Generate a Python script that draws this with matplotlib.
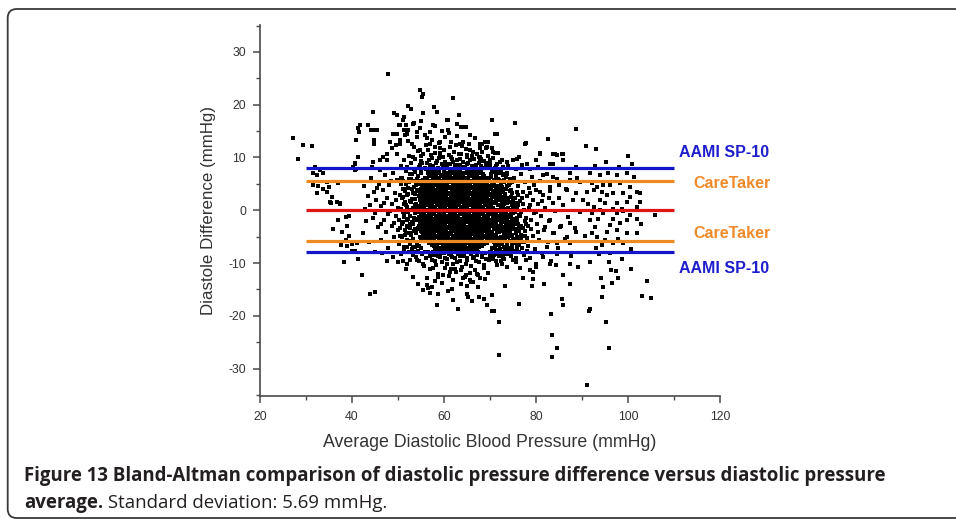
import matplotlib
matplotlib.use("Agg")
import matplotlib.pyplot as plt
from matplotlib.patches import FancyBboxPatch
from matplotlib.transforms import IdentityTransform

# ---------------- data ----------------
x_ticks = [20, 40, 60, 80, 100, 120]
y_ticks = [-30, -20, -10, 0, 10, 20, 30]
line_x = [30, 110]
zero_line = 0.0
caretaker_upper = 5.6
caretaker_lower = -5.8
aami_upper = 8.0
aami_lower = -8.0

upper_outliers = [
    (27.2, 13.7), (29.4, 12.3), (31.2, 12.2), (28.2, 9.7),
    (47.8, 25.9), (54.8, 22.7), (55.5, 22.1), (55.2, 21.5), (62.0, 21.2),
    (52.1, 19.8), (52.8, 19.1), (57.8, 19.6), (58.4, 18.6), (55.5, 18.5),
    (49.1, 18.5), (49.7, 18.0), (44.5, 18.6), (60.8, 17.1), (62.8, 16.4),
    (63.7, 15.8), (64.8, 15.8), (41.7, 16.2), (41.4, 15.6), (41.6, 14.8),
    (43.5, 16.2), (44.1, 15.2), (44.6, 15.2), (45.5, 15.2), (44.8, 13.3),
    (44.8, 12.6), (40.9, 13.3), (41.2, 10.1), (51.0, 17.1), (51.7, 16.1),
    (50.3, 16.1), (53.5, 16.6), (51.2, 15.2), (49.7, 14.5), (51.9, 14.5),
    (54.1, 14.8), (50.4, 13.3), (49.6, 12.3), (48.6, 11.7), (47.7, 10.7),
    (46.8, 10.1), (46.0, 9.5), (44.6, 9.2), (40.8, 7.9), (40.7, 8.8),
    (70.4, 17.1), (71.0, 14.5), (75.4, 16.5), (88.8, 15.4), (82.7, 13.5),
    (77.8, 12.8), (90.9, 12.1), (93.0, 11.6), (80.9, 10.9), (84.1, 10.6),
    (85.9, 10.6), (99.9, 10.2), (76.2, 10.0), (68.2, 12.6), (68.9, 12.9),
    (69.6, 12.9), (67.8, 11.7), (69.1, 11.7), (70.4, 11.8), (71.1, 10.9),
    (71.8, 10.9), (66.4, 11.0), (67.5, 10.1), (75.1, 9.5), (73.6, 9.2),
    (72.5, 9.5), (71.5, 8.8), (72.9, 8.2), (80.1, 9.5), (83.0, 8.8),
    (84.5, 10.4), (85.9, 9.5), (88.8, 8.2), (51.2, 17.7), (50.4, 16.1),
    (53.3, 16.4), (52.2, 15.2), (54.8, 15.5), (49.0, 14.5), (51.5, 14.2),
    (54.1, 13.9), (56.2, 13.6), (57.7, 16.1), (60.6, 17.1), (64.6, 15.8),
    (65.7, 14.2), (60.9, 15.2), (59.1, 12.9), (57.0, 12.6), (53.0, 12.6),
    (50.4, 12.6), (48.3, 12.9), (54.8, 11.4), (61.3, 12.0), (63.5, 12.6),
    (67.8, 12.6), (69.3, 12.0), (70.7, 11.0), (71.5, 14.5), (77.6, 12.6),
    (83.8, 10.7), (85.6, 10.7), (80.9, 10.7), (75.8, 9.8), (67.8, 10.1),
    (64.9, 10.4), (59.1, 10.7), (53.3, 10.1), (49.7, 10.7), (47.5, 9.5),
    (62.8, 9.5), (70.0, 9.5), (78.0, 8.8), (83.8, 8.8),
]

upper_band = [
    (50.6, 8.4), (51.3, 9.6), (51.9, 8.1), (52.4, 10.3), (52.9, 8.9), (53.4, 7.9),
    (53.8, 9.8), (54.3, 11.2), (54.7, 8.5), (55.1, 9.3), (55.5, 10.6), (55.8, 8.0),
    (56.2, 9.0), (56.6, 11.5), (56.9, 8.6), (57.3, 9.9), (57.7, 8.2), (58.0, 10.8),
    (58.4, 9.4), (58.8, 8.0), (59.1, 11.8), (59.5, 8.8), (59.8, 10.1), (60.2, 9.2),
    (60.6, 8.1), (61.0, 10.5), (61.3, 8.7), (61.7, 9.7), (62.1, 11.1), (62.4, 8.3),
    (62.8, 9.5), (63.2, 10.7), (63.5, 8.6), (63.9, 12.2), (64.2, 9.1), (64.6, 8.0),
    (65.0, 10.0), (65.3, 8.9), (65.7, 11.4), (66.1, 8.4), (66.5, 9.8), (66.8, 8.1),
    (67.2, 10.6), (67.6, 9.0), (68.0, 8.3), (68.3, 11.0), (68.7, 9.4), (69.1, 8.2),
    (69.5, 10.2), (69.9, 8.7), (56.0, 12.4), (57.4, 13.3), (58.9, 12.7), (60.3, 13.8),
    (61.6, 12.9), (62.9, 14.1), (64.1, 13.0), (65.4, 12.5), (59.6, 15.0), (61.1, 14.6),
    (57.0, 14.9), (55.0, 16.9), (58.1, 16.0), (63.3, 18.0), (66.7, 13.6), (53.5, 12.0),
    (52.2, 13.1), (55.8, 14.2),
]

top_edge = [
    (54.5, 8.2), (55.3, 8.9), (56.0, 7.9), (56.8, 9.5), (57.5, 8.3), (58.3, 8.9),
    (59.0, 9.9), (59.8, 8.2), (60.5, 8.8), (61.2, 7.9), (61.9, 9.2), (62.7, 8.5),
    (63.4, 9.8), (64.1, 8.1), (64.9, 8.8), (65.6, 9.5), (66.3, 7.9), (67.0, 8.6),
    (67.8, 9.3), (68.5, 8.0), (69.2, 9.0), (70.0, 8.4), (70.7, 9.9), (71.4, 8.3),
    (72.2, 9.1), (55.0, 10.2), (57.1, 10.4), (59.2, 10.9), (61.5, 10.0), (63.8, 10.6),
    (66.0, 10.2), (68.1, 9.8), (60.0, 11.4), (62.5, 12.3), (64.8, 11.6), (58.1, 11.9),
    (65.9, 7.8), (63.0, 7.9), (57.2, 7.8),
]

left_cluster = [
    (31.6, 4.7), (32.7, 4.5), (33.8, 4.1), (34.9, 4.4), (34.5, 3.5), (35.6, 2.5),
    (35.2, 1.6), (37.0, 5.1), (37.4, 1.3), (32.0, 8.2), (33.0, 7.6), (32.3, 6.6),
    (33.8, 7.1), (35.4, 1.3), (37.4, 1.1), (38.8, -1.3), (37.0, -1.8), (39.4, -1.1),
    (35.8, -3.5), (37.8, -4.1), (39.0, -3.0), (39.4, -4.9), (38.8, -5.6), (37.5, -6.6),
    (39.0, -6.8), (39.9, -6.4), (41.0, -6.3), (40.1, -7.7), (40.7, -7.7), (38.3, -9.9),
    (41.4, -9.2), (42.1, -12.2), (43.9, -15.8), (45.0, -15.4), (31.5, 7.0), (34.5, 5.4),
    (32.3, 3.2), (36.7, 1.6), (40.3, 8.2), (40.7, 7.6), (40.7, 9.0),
]

halo_left = [
    (44.2, 6.1), (44.8, 3.4), (45.1, -0.6), (45.3, 1.9), (45.6, -3.2), (45.9, 5.0),
    (46.2, -5.7), (46.4, 0.8), (46.7, 3.9), (46.9, -1.8), (47.2, 6.6), (47.4, -4.1),
    (47.6, 2.3), (47.9, -7.2), (48.1, 4.8), (48.3, -0.2), (48.6, -2.9), (48.8, 1.2),
    (49.0, 7.1), (49.2, -5.1), (49.4, 3.3), (49.6, -1.1), (49.8, 5.7), (50.0, -3.7),
    (50.1, 0.4), (50.3, -6.4), (50.5, 2.8), (50.7, -8.3), (50.8, 6.2), (51.0, -2.2),
    (51.2, 4.1), (51.3, -0.9), (51.5, 1.6), (51.6, -4.6), (51.8, 7.4), (51.9, -7.0),
    (52.1, 3.0), (52.2, -1.6), (52.4, 5.3), (52.5, -3.3), (52.7, 0.1), (52.8, -5.8),
    (53.0, 2.2), (53.1, 6.8), (53.3, -2.6), (53.4, 4.4), (53.5, -8.0), (53.7, -0.5),
    (53.8, 1.0), (54.0, -4.0), (54.1, 5.9), (54.2, -6.6), (54.4, 3.6), (54.5, -1.3),
    (54.6, 0.7), (54.8, -3.0), (54.9, 7.7), (54.9, -5.2), (50.2, -1.8), (50.6, 4.9),
    (50.9, -5.0), (51.1, 2.6), (51.4, -7.6), (51.7, 0.9), (52.0, -2.9), (52.3, 6.0),
    (52.6, -4.3), (52.9, 1.5), (53.2, -6.9), (53.6, 3.1), (53.9, -1.9), (54.3, 4.9),
    (54.7, -2.3), (54.8, 2.9), (53.4, -3.9), (52.0, -0.3), (51.0, 5.5), (50.4, -4.8),
    (49.5, 1.9), (49.1, -2.5), (48.4, 5.6), (47.8, -0.7), (47.0, 1.4), (46.3, -2.6),
    (45.5, 4.3), (44.6, -1.4), (44.0, 0.9), (43.4, 2.7), (43.1, -2.1), (42.6, 4.5),
    (42.3, -4.4), (43.7, -6.0), (44.9, -7.9), (46.5, -8.1), (47.7, -9.6), (48.9, -8.9),
    (49.9, -9.9), (46.0, 7.6), (44.3, 8.1), (42.8, 0.3),
]

edge_left = [
    (55.0, 7.0), (54.3, 6.4), (53.6, 7.3), (52.8, 5.9), (54.7, 5.6), (53.9, 4.8),
    (52.2, 4.3), (55.2, 4.4), (54.1, 3.8), (53.2, 3.2), (51.6, 3.6), (54.6, 2.7),
    (53.7, 2.1), (52.5, 1.8), (55.1, 1.6), (51.3, 1.1), (54.0, 1.2), (53.3, 0.5),
    (52.0, 0.7), (54.8, 0.0), (51.0, -0.4), (53.8, -0.6), (52.6, -1.0), (55.0, -1.1),
    (54.2, -1.7), (51.9, -1.8), (53.1, -2.3), (55.2, -2.4), (50.8, -2.6), (54.5, -2.9),
    (52.4, -3.1), (53.6, -3.5), (51.5, -3.8), (55.0, -3.9), (54.0, -4.4), (52.9, -4.6),
    (50.9, -4.9), (54.7, -5.0), (53.3, -5.4), (51.9, -5.6), (55.3, -5.8), (54.1, -6.2),
    (52.6, -6.4), (53.8, -7.0), (55.0, -7.1), (54.4, -7.7), (52.3, -7.9), (51.2, -6.9),
    (50.6, 0.2), (50.9, 2.4), (51.8, 5.0), (52.6, 6.8), (51.4, -1.2), (50.5, -3.3),
    (51.1, 4.0), (53.0, 4.1), (53.5, -1.4), (52.1, -0.3), (54.9, 3.3), (53.7, 5.5),
    (54.4, -3.4), (52.0, 2.9), (54.6, -6.7), (55.3, -0.6), (55.3, 2.2), (50.7, 6.1),
    (51.7, -4.4), (53.1, -7.4), (52.7, -2.6), (54.2, 0.5),
]

edge_right = [
    (70.4, 7.2), (71.2, 6.5), (72.1, 7.0), (70.9, 5.8), (72.6, 5.5), (73.4, 6.3),
    (70.5, 4.9), (71.6, 4.6), (72.9, 4.1), (74.1, 4.7), (70.7, 3.6), (71.9, 3.4),
    (73.2, 3.0), (74.5, 2.6), (70.5, 2.5), (71.4, 2.2), (72.5, 1.8), (73.8, 1.3),
    (75.1, 1.7), (70.8, 1.6), (71.8, 1.0), (72.9, 0.5), (74.2, 0.1), (75.5, -0.3),
    (70.4, 0.1), (71.3, -0.4), (72.3, -0.6), (73.4, -1.0), (74.6, -1.3), (75.8, -1.8),
    (70.6, -1.2), (71.7, -1.6), (72.8, -2.0), (74.0, -2.3), (75.2, -2.7), (76.3, -3.1),
    (70.3, -2.4), (71.2, -2.8), (72.2, -3.3), (73.3, -3.6), (74.4, -3.9), (75.6, -4.3),
    (76.8, -4.6), (70.8, -3.6), (71.9, -4.2), (73.0, -4.6), (74.0, -5.0), (75.1, -5.4),
    (76.2, -5.8), (77.3, -6.0), (70.5, -4.9), (71.5, -5.3), (72.6, -5.8), (73.6, -6.1),
    (74.7, -6.5), (75.8, -6.9), (76.9, -7.2), (70.9, -6.0), (71.9, -6.6), (73.0, -6.9),
    (74.1, -7.4), (75.2, -7.7), (76.4, -8.0), (70.4, -7.1), (71.4, -7.5), (72.5, -7.9),
    (73.5, -8.3), (74.6, -8.6), (75.7, -9.0), (70.8, -8.4), (72.0, -8.7), (73.1, -9.2),
    (71.3, -9.6), (72.7, -10.1), (69.9, -8.6), (77.5, -4.9), (78.1, -7.7), (77.9, -2.6),
    (76.6, -1.0), (76.0, 0.9), (74.9, -0.6), (73.9, -2.9), (72.0, -1.3), (71.1, -2.0),
    (70.2, -5.6), (76.9, 2.4), (75.9, 3.5), (74.8, 5.4), (73.7, 6.8), (71.9, 7.9),
]

edge_right_inner = [
    (70.3, 6.3), (71.0, 5.5), (71.8, 6.0), (72.4, 4.8), (73.1, 5.7), (70.2, 4.3),
    (71.1, 3.5), (72.0, 4.0), (72.8, 3.4), (73.6, 4.5), (74.3, 3.6), (70.6, 2.8),
    (71.5, 2.7), (72.3, 2.3), (73.2, 1.9), (74.0, 2.3), (74.8, 1.0), (70.3, 1.9),
    (71.2, 1.5), (72.1, 0.9), (73.0, 1.2), (73.9, 0.4), (75.0, 0.6), (70.7, 0.5),
    (71.6, 0.1), (72.6, -0.1), (73.5, -0.5), (74.4, -0.9), (70.2, -0.6), (71.0, -1.3),
    (71.9, -1.0), (72.9, -1.4), (73.8, -1.7), (74.7, -2.0), (75.6, -2.3), (70.5, -1.9),
    (71.4, -2.3), (72.4, -2.6), (73.4, -3.0), (74.3, -3.2), (75.3, -3.5), (76.2, -3.9),
    (70.9, -3.2), (71.8, -3.5), (72.8, -4.0), (73.8, -4.3), (74.8, -4.6), (75.8, -5.0),
    (70.4, -4.2), (71.3, -4.6), (72.3, -5.0), (73.3, -5.4), (74.3, -5.8), (75.4, -6.2),
    (76.4, -6.5), (70.7, -5.5), (71.7, -6.0), (72.7, -6.3), (73.7, -6.8), (74.8, -7.2),
    (75.9, -7.6), (71.0, -7.0), (72.1, -7.3), (73.2, -7.7), (74.3, -8.0), (71.7, -8.2),
    (72.9, -8.6), (70.3, -8.0), (76.8, -5.4), (77.2, -3.4), (76.0, -2.6), (75.7, 1.4),
    (74.4, 6.0), (72.8, 6.9), (70.8, 7.6),
]

halo_right = [
    (70.2, 6.9), (70.4, 3.1), (70.5, -0.8), (70.6, -4.6), (70.8, 5.2), (70.9, 1.4),
    (71.0, -2.7), (71.1, -6.8), (71.3, 7.3), (71.4, 3.9), (71.5, -0.1), (71.6, -3.9),
    (71.8, -7.6), (71.9, 2.0), (72.0, 5.8), (72.1, -1.9), (72.3, -5.3), (72.4, 0.7),
    (72.5, 4.4), (72.6, -3.2), (72.8, -8.8), (72.9, 6.6), (73.0, 2.6), (73.1, -1.2),
    (73.3, -5.9), (73.4, 0.2), (73.5, 4.0), (73.7, -3.7), (73.8, 7.0), (73.9, -7.2),
    (74.1, 1.5), (74.2, -2.4), (74.4, 5.1), (74.5, -4.8), (74.6, -0.5), (74.8, 3.2),
    (74.9, -9.4), (75.0, -6.3), (75.2, 6.1), (75.3, -1.7), (75.5, 2.3), (75.6, -3.5),
    (75.8, 0.6), (75.9, -7.9), (76.1, 4.6), (76.2, -5.0), (76.4, -0.9), (76.5, 1.8),
    (76.7, -2.9), (76.8, 6.9), (77.0, -6.1), (77.1, 3.4), (77.3, -8.4), (77.4, 0.0),
    (77.6, -4.0), (77.7, 5.4), (77.9, -1.5), (78.0, 2.7), (78.2, -6.8), (78.3, -3.0),
    (78.5, 4.2), (78.6, 0.9), (78.8, -9.0), (78.9, -1.8), (79.1, 6.3), (79.3, -4.9),
    (79.4, 2.0), (79.6, -0.6), (79.8, -7.3), (80.0, 3.9), (80.2, -2.6), (80.4, 1.1),
    (80.6, -5.6), (80.8, 5.6), (81.0, -1.0), (81.3, -8.1), (81.5, 2.9), (81.7, -3.8),
    (82.0, 0.4), (82.3, 6.8), (82.5, -6.0), (82.8, -2.0), (83.0, 3.6), (83.3, -9.6),
    (83.6, 1.3), (83.9, -4.4), (84.2, -0.2), (84.5, 5.9), (84.8, -7.1), (85.1, 2.4),
    (85.4, -2.9), (85.8, 0.9), (86.2, -5.4), (86.6, 4.0), (87.0, -1.2), (87.5, -8.6),
    (88.0, 1.9), (88.5, -3.3), (89.0, 6.1), (89.5, -0.4), (70.3, 1.0), (70.7, -2.2),
    (70.9, 4.5), (71.2, -5.5), (71.4, -1.1), (71.7, 0.9), (71.9, -3.0), (72.2, 3.0),
    (72.5, -0.9), (72.7, -6.4), (73.0, 5.3), (73.2, -2.2), (73.5, -0.3), (73.7, 1.9),
    (74.0, -4.1), (74.3, -1.1), (74.6, 3.8), (74.9, -2.8), (75.2, 0.3), (75.5, -5.5),
    (75.8, -1.4), (76.1, 2.9), (76.4, -3.9), (76.8, -0.4), (77.2, 1.2), (77.6, -2.1),
    (78.0, -5.2), (78.4, 0.5), (79.0, -3.5), (79.5, 4.8), (80.1, -0.3), (80.5, -4.1),
    (81.2, 1.8), (82.0, -3.1), (82.8, 2.4), (70.1, -7.9), (70.6, -9.2), (71.5, -10.4),
    (72.3, -9.7), (73.6, -10.8), (74.4, -8.2), (75.7, -9.8), (76.6, -10.9), (77.8, -9.5),
    (78.6, -11.3), (79.9, -10.1), (71.0, 8.0), (72.3, 7.6), (74.0, 8.3), (75.6, 7.8),
    (77.0, 8.5), (78.7, 7.9), (80.5, 8.2), (80.1, 9.5), (87.4, 7.0), (83.8, 6.3),
    (81.6, 6.6), (87.4, 5.7), (89.6, 5.4), (84.9, 4.7), (83.0, 4.4), (86.7, 3.8),
    (80.9, 3.5), (78.7, 3.2), (88.8, 3.2), (91.0, 3.5), (90.3, 1.9), (83.0, -1.9),
    (85.2, -3.2), (87.4, -2.5), (83.8, -4.4), (86.7, -5.1), (88.8, -4.1), (84.5, -6.3),
    (82.3, -7.0), (87.4, -6.3), (84.5, -8.2), (81.6, -8.8), (87.4, -10.1), (83.0, -10.1),
    (80.1, -10.7), (85.9, -12.3), (79.4, -11.7),
]

bottom_edge = [
    (55.8, -8.0), (56.9, -8.6), (57.7, -7.9), (58.6, -8.7), (59.4, -8.1), (60.2, -9.0),
    (61.0, -8.2), (61.8, -8.9), (62.6, -7.9), (63.4, -8.7), (64.2, -8.1), (65.0, -9.1),
    (65.8, -8.3), (66.6, -8.8), (67.4, -7.9), (68.2, -8.6), (69.0, -8.1), (69.7, -9.4),
    (58.0, -9.6), (60.6, -10.2), (62.9, -9.8), (64.8, -10.1), (66.9, -9.7), (68.6, -10.9),
    (63.8, -11.3), (61.5, -11.1), (59.8, -12.2), (65.6, -11.9), (67.3, -12.2), (57.7, -10.9),
]

lower_band = [
    (53.9, -8.8), (54.6, -9.7), (55.2, -8.3), (55.7, -10.5), (56.1, -9.1), (56.6, -8.0),
    (57.0, -11.2), (57.4, -9.5), (57.9, -8.4), (58.3, -10.3), (58.7, -12.0), (59.1, -8.9),
    (59.5, -9.9), (59.9, -8.1), (60.3, -11.0), (60.7, -9.3), (61.1, -12.5), (61.5, -8.5),
    (61.9, -10.1), (62.3, -9.0), (62.7, -11.7), (63.1, -8.2), (63.5, -9.6), (63.9, -10.8),
    (64.3, -8.7), (64.7, -12.3), (65.1, -9.4), (65.5, -8.0), (65.9, -10.6), (66.3, -9.0),
    (66.7, -11.4), (67.1, -8.4), (67.5, -9.9), (67.9, -12.8), (68.3, -8.8), (68.7, -10.4),
    (69.1, -9.3), (69.5, -11.9), (69.9, -8.1), (56.4, -12.8), (58.0, -13.4), (59.6, -13.8),
    (62.0, -13.2), (63.6, -14.0), (65.8, -13.6), (67.4, -14.5), (68.9, -13.1), (60.9, -15.3),
    (57.3, -14.6), (64.9, -15.9), (66.0, -17.2), (63.1, -18.7), (67.6, -16.4), (52.6, -9.4),
    (51.8, -11.2), (53.2, -12.6), (54.4, -13.9), (55.4, -15.1),
]

lower_outliers = [
    (91.0, -33.2), (72.0, -27.5), (83.4, -27.9), (84.6, -26.1), (95.9, -26.1),
    (83.4, -23.6), (72.0, -21.2), (95.2, -21.2), (91.7, -18.8), (91.6, -19.1),
    (83.2, -19.6), (70.4, -19.1), (70.9, -19.1), (76.4, -17.8), (85.6, -16.9),
    (85.8, -18.0), (69.4, -18.0), (68.6, -16.9), (70.4, -16.1), (103.0, -16.3),
    (105.1, -16.7), (94.3, -16.4), (94.6, -14.6), (87.4, -14.0), (104.1, -13.4),
    (96.6, -13.8), (97.9, -12.9), (94.1, -12.8), (81.7, -14.0), (79.2, -14.4),
    (73.3, -14.4), (89.1, -10.7), (91.7, -9.8), (96.4, -11.4), (97.3, -11.6),
    (100.7, -11.2), (98.8, -9.2), (95.9, -9.8), (84.3, -10.3), (79.4, -13.1),
    (77.2, -12.9), (51.0, -9.7), (52.0, -10.1), (53.3, -8.5), (54.1, -9.5),
    (55.5, -10.1), (56.2, -14.2), (56.6, -14.7), (57.0, -15.7), (58.8, -15.8),
    (58.4, -18.0), (61.9, -17.1), (61.7, -15.0), (65.3, -16.4), (58.8, -12.6),
    (64.9, -14.3), (61.3, -11.7), (62.4, -11.1), (64.2, -12.9), (65.7, -13.3),
    (64.6, -12.6), (66.4, -13.6), (67.1, -12.0),
]

right_cluster = [
    (91.7, 7.0), (93.9, 6.6), (95.7, 7.0), (97.5, 6.6), (99.7, 7.0), (101.2, 6.3),
    (92.1, 5.1), (93.2, 4.4), (94.6, 4.7), (96.1, 4.7), (98.3, 5.1), (100.4, 4.4),
    (101.9, 3.5), (102.6, 3.2), (92.5, 3.8), (94.3, 3.5), (95.4, 2.8), (96.8, 3.2),
    (99.0, 3.2), (100.4, 2.5), (102.6, 1.6), (93.9, 1.9), (95.0, 1.3), (97.5, 1.3),
    (99.7, 1.6), (101.9, 0.6), (96.8, 0.3), (92.5, 0.6), (91.4, 1.1), (98.6, 0.3),
    (105.9, -0.9), (91.7, -1.9), (93.5, -1.6), (96.8, -1.6), (99.7, -1.9), (101.9, -1.6),
    (92.1, -0.6), (94.6, -0.6), (97.5, -0.6), (100.4, -0.9), (92.1, -4.4), (93.2, -5.1),
    (95.4, -4.1), (97.5, -3.8), (99.7, -4.4), (101.9, -4.4), (92.8, -3.2), (96.1, -2.8),
    (98.3, -2.5), (93.8, -8.2), (96.1, -8.1), (96.8, -6.3), (99.0, -6.3), (97.9, -5.4),
    (94.3, -6.6), (95.0, -5.6), (92.9, 8.4), (95.2, 9.2), (98.0, 8.1), (100.8, 8.7),
    (94.0, 0.0), (98.9, -0.2), (93.0, -7.1), (100.6, -7.4), (90.6, -4.9), (102.8, -2.7),
]

core = [
    (56.8, 7.2), (57.6, 7.4), (58.3, 7.6), (59.0, 7.3), (59.9, 7.5),
    (60.5, 7.1), (61.3, 7.4), (62.0, 7.6), (62.8, 7.3), (63.5, 7.5), (64.3, 7.1), (65.0, 7.4),
    (65.8, 7.6), (66.5, 7.2), (67.4, 7.5), (68.0, 7.3),
    (56.5, 7.0), (57.2, 6.6), (57.9, 6.9), (58.7, 7.0), (59.4, 6.7), (60.2, 6.9),
    (60.9, 6.6), (61.7, 7.0), (62.4, 6.8), (63.2, 6.9), (63.9, 6.6), (64.7, 7.0), (65.4, 6.8),
    (66.2, 6.9), (66.9, 6.6), (67.7, 7.0), (68.4, 6.8),
    (55.9, 6.1), (56.7, 6.4), (57.5, 6.2), (58.2, 6.3), (59.0, 6.1), (59.7, 6.4),
    (60.5, 6.2), (61.2, 6.3), (62.0, 6.1), (62.7, 6.4), (63.5, 6.2), (64.2, 6.3), (65.0, 6.1),
    (65.7, 6.4), (66.5, 6.2), (67.2, 6.3), (68.0, 6.1), (68.7, 6.4), (69.5, 6.2),
    (55.5, 5.7), (56.3, 5.8), (57.0, 5.6), (57.8, 5.7), (58.6, 5.9), (59.3, 5.6), (60.1, 5.8),
    (60.8, 5.7), (61.6, 5.5), (62.3, 5.8), (63.1, 5.7), (63.8, 5.6), (64.6, 5.9), (65.3, 5.7),
    (66.1, 5.5), (66.8, 5.8), (67.6, 5.6), (68.3, 5.7), (69.1, 5.9), (69.8, 5.6),
    (55.1, 5.2), (55.9, 5.1), (56.6, 5.3), (57.4, 5.2), (58.1, 5.0), (58.9, 5.3), (59.6, 5.2),
    (60.4, 5.1), (61.1, 5.3), (61.9, 5.0), (62.6, 5.2), (63.4, 5.3), (64.1, 5.1), (64.9, 5.2),
    (65.6, 5.0), (66.4, 5.3), (67.1, 5.1), (67.9, 5.2), (68.6, 5.0), (69.4, 5.3),
    (55.4, 4.6), (56.2, 4.7), (56.9, 4.5), (57.7, 4.6), (58.5, 4.8), (59.2, 4.5), (60.0, 4.7),
    (60.7, 4.6), (61.5, 4.4), (62.2, 4.7), (63.0, 4.6), (63.7, 4.5), (64.5, 4.8), (65.2, 4.6),
    (66.0, 4.4), (66.7, 4.7), (67.5, 4.5), (68.2, 4.6), (69.0, 4.8), (69.7, 4.5),
    (54.9, 4.1), (55.7, 4.0), (56.4, 4.2), (57.2, 4.1), (57.9, 3.9), (58.7, 4.2), (59.4, 4.1),
    (60.2, 4.0), (60.9, 4.2), (61.7, 3.9), (62.4, 4.1), (63.2, 4.2), (63.9, 4.0), (64.7, 4.1),
    (65.4, 3.9), (66.2, 4.2), (66.9, 4.0), (67.7, 4.1), (68.4, 3.9), (69.2, 4.2), (69.9, 4.0),
    (55.3, 3.5), (56.0, 3.6), (56.8, 3.4), (57.5, 3.5), (58.3, 3.7), (59.0, 3.4), (59.8, 3.6),
    (60.5, 3.5), (61.3, 3.3), (62.0, 3.6), (62.8, 3.5), (63.5, 3.4), (64.3, 3.7), (65.0, 3.5),
    (65.8, 3.3), (66.5, 3.6), (67.3, 3.4), (68.0, 3.5), (68.8, 3.7), (69.5, 3.4),
    (54.8, 3.0), (55.6, 2.9), (56.3, 3.1), (57.1, 3.0), (57.8, 2.8), (58.6, 3.1), (59.3, 3.0),
    (60.1, 2.9), (60.8, 3.1), (61.6, 2.8), (62.3, 3.0), (63.1, 3.1), (63.8, 2.9), (64.6, 3.0),
    (65.3, 2.8), (66.1, 3.1), (66.8, 2.9), (67.6, 3.0), (68.3, 2.8), (69.1, 3.1), (69.8, 2.9),
    (55.2, 2.4), (55.9, 2.5), (56.7, 2.3), (57.4, 2.4), (58.2, 2.6), (58.9, 2.3), (59.7, 2.5),
    (60.4, 2.4), (61.2, 2.2), (61.9, 2.5), (62.7, 2.4), (63.4, 2.3), (64.2, 2.6), (64.9, 2.4),
    (65.7, 2.2), (66.4, 2.5), (67.2, 2.3), (67.9, 2.4), (68.7, 2.6), (69.4, 2.3),
    (54.7, 1.9), (55.5, 1.8), (56.2, 2.0), (57.0, 1.9), (57.7, 1.7), (58.5, 2.0), (59.2, 1.9),
    (60.0, 1.8), (60.7, 2.0), (61.5, 1.7), (62.2, 1.9), (63.0, 2.0), (63.7, 1.8), (64.5, 1.9),
    (65.2, 1.7), (66.0, 2.0), (66.7, 1.8), (67.5, 1.9), (68.2, 1.7), (69.0, 2.0), (69.7, 1.8),
    (55.1, 1.3), (55.8, 1.4), (56.6, 1.2), (57.3, 1.3), (58.1, 1.5), (58.8, 1.2), (59.6, 1.4),
    (60.3, 1.3), (61.1, 1.1), (61.8, 1.4), (62.6, 1.3), (63.3, 1.2), (64.1, 1.5), (64.8, 1.3),
    (65.6, 1.1), (66.3, 1.4), (67.1, 1.2), (67.8, 1.3), (68.6, 1.5), (69.3, 1.2), (70.0, 1.4),
    (54.6, 0.8), (55.4, 0.7), (56.1, 0.9), (56.9, 0.8), (57.6, 0.6), (58.4, 0.9), (59.1, 0.8),
    (59.9, 0.7), (60.6, 0.9), (61.4, 0.6), (62.1, 0.8), (62.9, 0.9), (63.6, 0.7), (64.4, 0.8),
    (65.1, 0.6), (65.9, 0.9), (66.6, 0.7), (67.4, 0.8), (68.1, 0.6), (68.9, 0.9), (69.6, 0.7),
    (55.0, 0.2), (55.7, 0.3), (56.5, 0.1), (57.2, 0.2), (58.0, 0.4), (58.7, 0.1), (59.5, 0.3),
    (60.2, 0.2), (61.0, 0.0), (61.7, 0.3), (62.5, 0.2), (63.2, 0.1), (64.0, 0.4), (64.7, 0.2),
    (65.5, 0.0), (66.2, 0.3), (67.0, 0.1), (67.7, 0.2), (68.5, 0.4), (69.2, 0.1), (69.9, 0.3),
    (54.5, -0.3), (55.3, -0.4), (56.0, -0.2), (56.8, -0.3), (57.5, -0.5), (58.3, -0.2), (59.0, -0.3),
    (59.8, -0.4), (60.5, -0.2), (61.3, -0.5), (62.0, -0.3), (62.8, -0.2), (63.5, -0.4), (64.3, -0.3),
    (65.0, -0.5), (65.8, -0.2), (66.5, -0.4), (67.3, -0.3), (68.0, -0.5), (68.8, -0.2), (69.5, -0.4),
    (54.9, -0.9), (55.6, -0.8), (56.4, -1.0), (57.1, -0.9), (57.9, -0.7), (58.6, -1.0), (59.4, -0.9),
    (60.1, -0.8), (60.9, -1.0), (61.6, -0.7), (62.4, -0.9), (63.1, -1.0), (63.9, -0.8), (64.6, -0.9),
    (65.4, -0.7), (66.1, -1.0), (66.9, -0.8), (67.6, -0.9), (68.4, -0.7), (69.1, -1.0), (69.9, -0.8),
    (54.6, -1.4), (55.3, -1.5), (56.1, -1.3), (56.8, -1.4), (57.6, -1.6), (58.3, -1.3), (59.1, -1.5),
    (59.8, -1.4), (60.6, -1.2), (61.3, -1.5), (62.1, -1.4), (62.8, -1.3), (63.6, -1.6), (64.3, -1.4),
    (65.1, -1.2), (65.8, -1.5), (66.6, -1.3), (67.3, -1.4), (68.1, -1.6), (68.8, -1.3), (69.6, -1.5),
    (55.0, -2.0), (55.7, -1.9), (56.5, -2.1), (57.2, -2.0), (58.0, -1.8), (58.7, -2.1), (59.5, -2.0),
    (60.2, -1.9), (61.0, -2.1), (61.7, -1.8), (62.5, -2.0), (63.2, -2.1), (64.0, -1.9), (64.7, -2.0),
    (65.5, -1.8), (66.2, -2.1), (67.0, -1.9), (67.7, -2.0), (68.5, -1.8), (69.2, -2.1), (70.0, -1.9),
    (54.7, -2.5), (55.4, -2.6), (56.2, -2.4), (56.9, -2.5), (57.7, -2.7), (58.4, -2.4), (59.2, -2.6),
    (59.9, -2.5), (60.7, -2.3), (61.4, -2.6), (62.2, -2.5), (62.9, -2.4), (63.7, -2.7), (64.4, -2.5),
    (65.2, -2.3), (65.9, -2.6), (66.7, -2.4), (67.4, -2.5), (68.2, -2.7), (68.9, -2.4), (69.7, -2.6),
    (55.1, -3.1), (55.8, -3.0), (56.6, -3.2), (57.3, -3.1), (58.1, -2.9), (58.8, -3.2), (59.6, -3.1),
    (60.3, -3.0), (61.1, -3.2), (61.8, -2.9), (62.6, -3.1), (63.3, -3.2), (64.1, -3.0), (64.8, -3.1),
    (65.6, -2.9), (66.3, -3.2), (67.1, -3.0), (67.8, -3.1), (68.6, -2.9), (69.3, -3.2), (70.1, -3.0),
    (54.8, -3.6), (55.5, -3.7), (56.3, -3.5), (57.0, -3.6), (57.8, -3.8), (58.5, -3.5), (59.3, -3.7),
    (60.0, -3.6), (60.8, -3.4), (61.5, -3.7), (62.3, -3.6), (63.0, -3.5), (63.8, -3.8), (64.5, -3.6),
    (65.3, -3.4), (66.0, -3.7), (66.8, -3.5), (67.5, -3.6), (68.3, -3.8), (69.0, -3.5), (69.8, -3.7),
    (55.2, -4.2), (55.9, -4.1), (56.7, -4.3), (57.4, -4.2), (58.2, -4.0), (58.9, -4.3), (59.7, -4.2),
    (60.4, -4.1), (61.2, -4.3), (61.9, -4.0), (62.7, -4.2), (63.4, -4.3), (64.2, -4.1), (64.9, -4.2),
    (65.7, -4.0), (66.4, -4.3), (67.2, -4.1), (67.9, -4.2), (68.7, -4.0), (69.4, -4.3), (70.2, -4.1),
    (55.5, -4.7), (56.3, -4.8), (57.0, -4.6), (57.8, -4.7), (58.5, -4.9), (59.3, -4.6), (60.0, -4.8),
    (60.8, -4.7), (61.5, -4.5), (62.3, -4.8), (63.0, -4.7), (63.8, -4.6), (64.5, -4.9), (65.3, -4.7),
    (66.0, -4.5), (66.8, -4.8), (67.5, -4.6), (68.3, -4.7), (69.0, -4.9), (69.8, -4.6),
    (55.2, -5.3), (55.9, -5.2), (56.7, -5.4), (57.4, -5.3), (58.2, -5.1), (58.9, -5.4), (59.7, -5.3),
    (60.4, -5.2), (61.2, -5.4), (61.9, -5.1), (62.7, -5.3), (63.4, -5.4), (64.2, -5.2), (64.9, -5.3),
    (65.7, -5.1), (66.4, -5.4), (67.2, -5.2), (67.9, -5.3), (68.7, -5.1), (69.4, -5.4), (70.2, -5.2),
    (55.6, -5.8), (56.3, -5.9), (57.1, -5.7), (57.8, -5.8), (58.6, -6.0), (59.3, -5.7), (60.1, -5.9),
    (60.8, -5.8), (61.6, -5.6), (62.3, -5.9), (63.1, -5.8), (63.8, -5.7), (64.6, -6.0), (65.3, -5.8),
    (66.1, -5.6), (66.8, -5.9), (67.6, -5.7), (68.3, -5.8), (69.1, -6.0), (69.8, -5.7),
    (56.7, -6.3), (57.4, -6.5), (58.2, -6.4), (58.9, -6.2), (59.7, -6.5), (60.4, -6.4),
    (61.2, -6.3), (61.9, -6.5), (62.7, -6.2), (63.4, -6.4), (64.2, -6.5), (64.9, -6.3), (65.7, -6.4),
    (66.4, -6.2), (67.2, -6.5), (67.9, -6.3), (68.7, -6.4), (69.4, -6.2),
    (57.8, -6.8), (58.5, -6.9), (59.3, -7.1), (60.0, -6.8), (60.8, -7.0),
    (61.5, -6.9), (62.3, -6.7), (63.0, -7.0), (63.8, -6.9), (64.5, -6.8), (65.3, -7.1), (66.0, -6.9),
    (66.8, -6.7), (67.5, -7.0), (68.3, -6.8),
    (58.1, -7.6), (58.9, -7.5), (59.6, -7.3), (60.4, -7.6), (61.1, -7.5),
    (61.9, -7.4), (62.6, -7.6), (63.4, -7.3), (64.1, -7.5), (64.9, -7.6), (65.6, -7.4), (66.4, -7.5),
    (67.1, -7.3),
]

caption_bold = "Figure 13 Bland-Altman comparison of diastolic pressure difference versus diastolic pressure"
caption_bold2 = "average."
caption_regular = " Standard deviation: 5.69 mmHg."

# ---------------- figure ----------------
W, H = 956, 520
fig = plt.figure(figsize=(W / 100, H / 100), dpi=100)
fig.patch.set_facecolor("white")

frame = FancyBboxPatch((7.7, 2), 1100, 509, boxstyle="round,pad=0,rounding_size=9",
                       transform=IdentityTransform(), fill=False,
                       edgecolor="#3a3a3a", linewidth=1.3)
fig.patches.append(frame)

ax = fig.add_axes([260 / W, 1 - 396 / H, 460 / W, 371 / H])
ax.set_xlim(20, 120)
ax.set_ylim(-35.2, 35.1)

groups = [core, edge_left, edge_right, edge_right_inner, top_edge, bottom_edge,
          halo_left, halo_right, upper_band, lower_band, left_cluster, right_cluster,
          upper_outliers, lower_outliers]
for g in groups:
    xs = [p[0] for p in g]
    ys = [p[1] for p in g]
    ax.plot(xs, ys, linestyle="none", marker="s", markersize=2.8,
            markerfacecolor="black", markeredgewidth=0, zorder=2)

lw = 2.3
ax.plot(line_x, [aami_upper] * 2, color="#1414c8", lw=lw, zorder=3, solid_capstyle="butt")
ax.plot(line_x, [aami_lower] * 2, color="#1414c8", lw=lw, zorder=3, solid_capstyle="butt")
ax.plot(line_x, [caretaker_upper] * 2, color="#ef8a22", lw=lw, zorder=3, solid_capstyle="butt")
ax.plot(line_x, [caretaker_lower] * 2, color="#ef8a22", lw=lw, zorder=3, solid_capstyle="butt")
ax.plot(line_x, [zero_line] * 2, color="#e01414", lw=lw, zorder=3, solid_capstyle="butt")

lab_font = dict(family=["Liberation Sans", "DejaVu Sans"], fontsize=11.5, fontweight="bold",
                ha="center", va="center", clip_on=False)
ax.text(120.8, 11.0, "AAMI SP-10", color="#1e1ecc", **lab_font)
ax.text(122.6, 5.1, "CareTaker", color="#ef8a2a", **lab_font)
ax.text(122.6, -4.5, "CareTaker", color="#ef8a2a", **lab_font)
ax.text(120.8, -11.0, "AAMI SP-10", color="#1e1ecc", **lab_font)

for s in ["top", "right"]:
    ax.spines[s].set_visible(False)
for s in ["left", "bottom"]:
    ax.spines[s].set_color("#4a4a4a")
    ax.spines[s].set_linewidth(1.2)

ax.set_xticks(x_ticks)
ax.set_xticks([30, 50, 70, 90, 110], minor=True)
ax.set_yticks(y_ticks)
ax.set_yticks([-35, -25, -15, -5, 5, 15, 25, 35], minor=True)
ax.set_yticklabels([str(v) for v in y_ticks])
ax.set_xticklabels([str(v) for v in x_ticks])
ax.tick_params(axis="both", which="major", direction="out", length=5, width=1.1,
               color="#4a4a4a", labelsize=8.8, labelcolor="#333333")
ax.tick_params(axis="both", which="minor", direction="out", length=3, width=1.0,
               color="#4a4a4a")
ax.tick_params(axis="y", pad=5)
ax.tick_params(axis="x", pad=6)
for lbl in ax.get_xticklabels() + ax.get_yticklabels():
    lbl.set_family(["Liberation Sans Narrow", "Liberation Sans", "DejaVu Sans"])

ax.set_xlabel("Average Diastolic Blood Pressure (mmHg)", fontsize=12.8,
              family=["Liberation Sans", "DejaVu Sans"], color="#333333", labelpad=8)
ax.set_ylabel("Diastole Difference (mmHg)", fontsize=12.2,
              family=["Liberation Sans", "DejaVu Sans"], color="#333333", labelpad=9)

cap_family = ["Open Sans", "DejaVu Sans"]
cap_color = "#231f20"
t1 = fig.text(24 / W, 1 - 476 / H, caption_bold, fontsize=11.5, fontweight="bold",
              family=cap_family, color=cap_color, ha="left", va="center")
fig.canvas.draw()
r = fig.canvas.get_renderer()
bb = t1.get_window_extent(renderer=r)
fs = 11.5 * (885 - 24) / bb.width
t1.set_fontsize(fs)
t2 = fig.text(24 / W, 1 - 503 / H, caption_bold2, fontsize=fs, fontweight="bold",
              family=cap_family, color=cap_color, ha="left", va="center")
fig.canvas.draw()
bb2 = t2.get_window_extent(renderer=r)
fig.text(bb2.x1 / W, 1 - 503 / H, caption_regular, fontsize=fs, fontweight="normal",
         family=cap_family, color=cap_color, ha="left", va="center")

fig.savefig("out.png", dpi=100, facecolor="white")
